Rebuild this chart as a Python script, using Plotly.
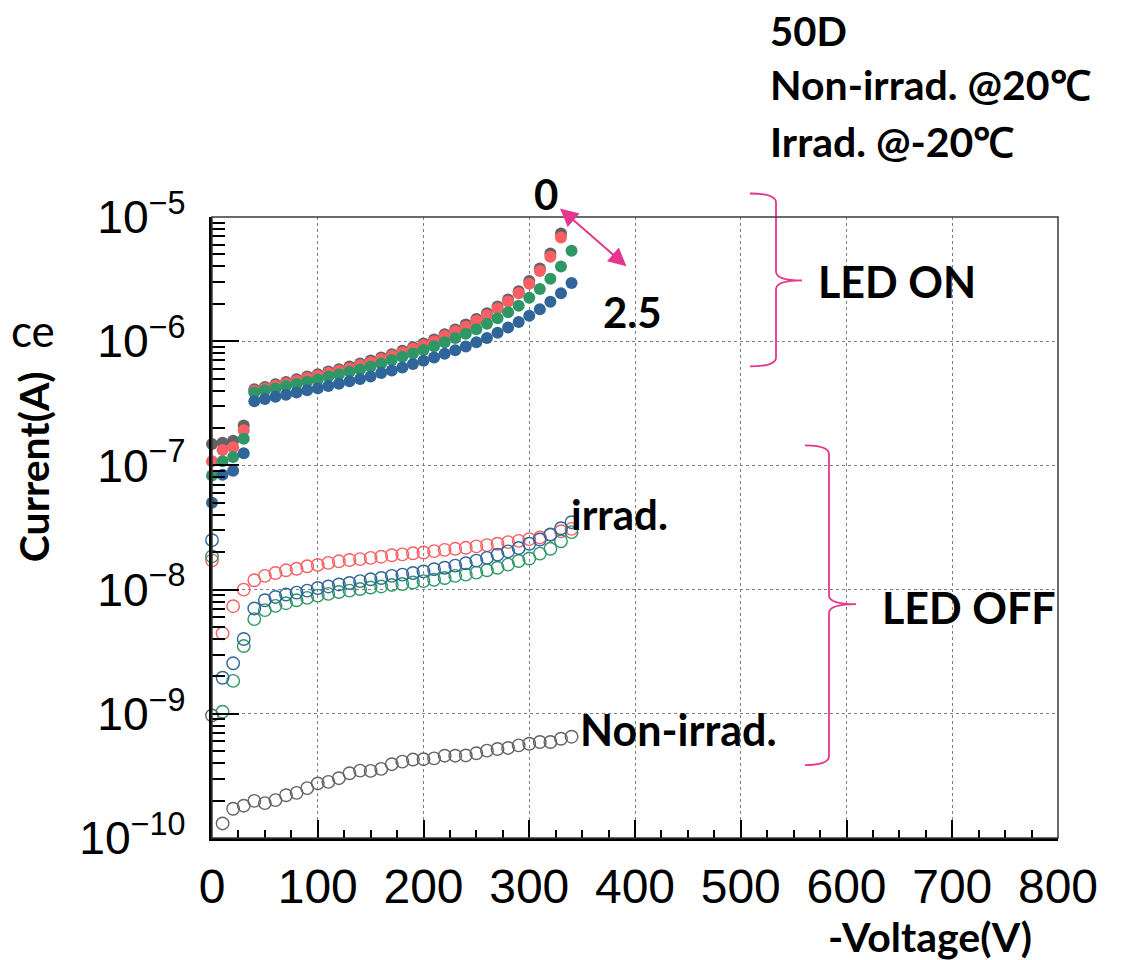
import plotly.graph_objects as go

# ---------------- data ----------------
voltage_330 = [0, 10, 20, 30, 40, 50, 60, 70, 80, 90, 100, 110, 120, 130, 140, 150, 160,
               170, 180, 190, 200, 210, 220, 230, 240, 250, 260, 270, 280, 290, 300, 310,
               320, 330]
voltage_340 = voltage_330 + [340]

gray_on = [1.49e-7, 1.52e-7, 1.58e-7, 2.10e-7, 4.10e-7, 4.28e-7, 4.50e-7, 4.70e-7, 4.95e-7,
           5.20e-7, 5.42e-7, 5.70e-7, 5.95e-7, 6.25e-7, 6.60e-7, 6.98e-7, 7.40e-7, 7.85e-7,
           8.36e-7, 8.95e-7, 9.60e-7, 1.03e-6, 1.14e-6, 1.24e-6, 1.36e-6, 1.51e-6, 1.68e-6,
           1.90e-6, 2.17e-6, 2.53e-6, 3.05e-6, 3.85e-6, 5.08e-6, 7.36e-6]
red_on = [1.08e-7, 1.33e-7, 1.40e-7, 1.92e-7, 3.99e-7, 4.17e-7, 4.38e-7, 4.57e-7, 4.81e-7,
          5.05e-7, 5.27e-7, 5.54e-7, 5.78e-7, 6.07e-7, 6.42e-7, 6.78e-7, 7.18e-7, 7.62e-7,
          8.11e-7, 8.68e-7, 9.29e-7, 1.00e-6, 1.10e-6, 1.20e-6, 1.31e-6, 1.46e-6, 1.62e-6,
          1.83e-6, 2.09e-6, 2.43e-6, 2.90e-6, 3.67e-6, 4.78e-6, 6.84e-6]
green_on = [8.30e-8, 1.08e-7, 1.17e-7, 1.64e-7, 3.87e-7, 4.02e-7, 4.17e-7, 4.36e-7, 4.52e-7,
            4.72e-7, 4.92e-7, 5.20e-7, 5.43e-7, 5.67e-7, 5.93e-7, 6.26e-7, 6.62e-7, 7.05e-7,
            7.48e-7, 7.96e-7, 8.51e-7, 9.12e-7, 9.82e-7, 1.06e-6, 1.15e-6, 1.25e-6, 1.38e-6,
            1.53e-6, 1.71e-6, 1.93e-6, 2.24e-6, 2.63e-6, 3.18e-6, 4.00e-6, 5.35e-6]
blue_on = [5.00e-8, 8.41e-8, 9.06e-8, 1.25e-7, 3.28e-7, 3.42e-7, 3.57e-7, 3.71e-7, 3.87e-7,
           4.02e-7, 4.17e-7, 4.36e-7, 4.55e-7, 4.75e-7, 4.96e-7, 5.20e-7, 5.54e-7, 5.82e-7,
           6.15e-7, 6.54e-7, 6.95e-7, 7.40e-7, 7.91e-7, 8.47e-7, 9.06e-7, 9.82e-7, 1.06e-6,
           1.17e-6, 1.29e-6, 1.43e-6, 1.60e-6, 1.81e-6, 2.08e-6, 2.43e-6, 2.94e-6]

gray_off = [9.70e-10, 1.31e-10, 1.72e-10, 1.82e-10, 1.99e-10, 1.91e-10, 2.02e-10, 2.21e-10,
            2.31e-10, 2.52e-10, 2.75e-10, 2.83e-10, 3.03e-10, 3.32e-10, 3.49e-10, 3.47e-10,
            3.60e-10, 3.93e-10, 4.12e-10, 4.28e-10, 4.31e-10, 4.38e-10, 4.60e-10, 4.60e-10,
            4.62e-10, 4.81e-10, 5.05e-10, 5.21e-10, 5.31e-10, 5.57e-10, 5.74e-10, 5.93e-10,
            5.93e-10, 6.30e-10, 6.54e-10]
red_off = [1.72e-8, 4.44e-9, 7.35e-9, 1.00e-8, 1.19e-8, 1.29e-8, 1.36e-8, 1.43e-8, 1.47e-8,
           1.54e-8, 1.58e-8, 1.64e-8, 1.69e-8, 1.73e-8, 1.76e-8, 1.80e-8, 1.84e-8, 1.89e-8,
           1.92e-8, 1.96e-8, 1.99e-8, 2.04e-8, 2.09e-8, 2.13e-8, 2.17e-8, 2.23e-8, 2.28e-8,
           2.34e-8, 2.41e-8, 2.47e-8, 2.55e-8, 2.63e-8, 2.76e-8, 2.95e-8, 3.08e-8]
green_off = [1.85e-8, 1.04e-9, 1.84e-9, 3.51e-9, 5.78e-9, 6.83e-9, 7.40e-9, 7.77e-9, 8.21e-9,
             8.57e-9, 8.95e-9, 9.23e-9, 9.57e-9, 9.82e-9, 1.01e-8, 1.04e-8, 1.06e-8, 1.09e-8,
             1.11e-8, 1.14e-8, 1.17e-8, 1.20e-8, 1.24e-8, 1.29e-8, 1.32e-8, 1.37e-8, 1.43e-8,
             1.50e-8, 1.59e-8, 1.70e-8, 1.78e-8, 1.95e-8, 2.13e-8, 2.45e-8, 2.90e-8]
blue_off = [2.50e-8, 1.95e-9, 2.55e-9, 4.00e-9, 7.05e-9, 8.21e-9, 8.73e-9, 9.12e-9, 9.46e-9,
            9.82e-9, 1.03e-8, 1.06e-8, 1.10e-8, 1.13e-8, 1.17e-8, 1.21e-8, 1.24e-8, 1.29e-8,
            1.32e-8, 1.36e-8, 1.40e-8, 1.46e-8, 1.50e-8, 1.56e-8, 1.63e-8, 1.71e-8, 1.80e-8,
            1.91e-8, 2.03e-8, 2.16e-8, 2.34e-8, 2.53e-8, 2.78e-8, 3.12e-8, 3.49e-8]

x_ticks = [0, 100, 200, 300, 400, 500, 600, 700, 800]

# ---------------- style ----------------
GRAY = "#636363"
RED = "#fb5f63"
GREEN = "#2f9766"
BLUE = "#30659a"
PINK = "#e5358f"
BOLD = "Lato"

PAGE_OFF = 8                      # default body margin of the page
W, H = 1126 - PAGE_OFF, 960 - PAGE_OFF
L, R, T, B = 212, 1058, 216.5, 838   # plot-area edges in page pixels


def px(x, y):
    return (x - L) / (R - L), (B - y) / (B - T)


fig = go.Figure()

off_series = [(gray_off, GRAY, voltage_340), (red_off, RED, voltage_340),
              (green_off, GREEN, voltage_340), (blue_off, BLUE, voltage_340)]
for ys, col, xs in off_series:
    fig.add_trace(go.Scatter(x=xs, y=ys, mode="markers", cliponaxis=False,
                             marker=dict(symbol="circle-open", size=12.5,
                                         color=col, line=dict(width=1.4, color=col)),
                             showlegend=False))

on_series = [(gray_on, GRAY, voltage_330), (red_on, RED, voltage_330),
             (green_on, GREEN, voltage_340), (blue_on, BLUE, voltage_340)]
for ys, col, xs in on_series:
    fig.add_trace(go.Scatter(x=xs, y=ys, mode="markers", cliponaxis=False,
                             marker=dict(symbol="circle", size=12, color=col,
                                         line=dict(width=0)),
                             showlegend=False))

annotations = []


def txt(x, y, s, size, bold=True, anchor="center", family=BOLD, angle=0):
    ax_, ay_ = px(x, y)
    annotations.append(dict(x=ax_, y=ay_, xref="paper", yref="paper", text=s,
                            showarrow=False, xanchor=anchor, yanchor="middle",
                            textangle=angle,
                            font=dict(family=family, size=size, color="black",
                                      weight="bold" if bold else "normal")))


txt(768, 30, "50D", 40, anchor="left")
txt(768, 84, "Non-irrad. @20℃", 41, anchor="left")
txt(768, 141, "Irrad. @-20℃", 41, anchor="left")
txt(546, 193, "0", 42)
txt(632, 312, "2.5", 42)
txt(897, 281, "LED ON", 43)
txt(969, 607, "LED OFF", 43)
txt(619, 514, "irrad.", 42)
txt(678, 729, "Non-irrad.", 43)
txt(9, 330, "ce", 44, bold=False, anchor="left")
txt(33, 467, "Current(A)", 41, angle=-90)
txt(930, 937, "-Voltage(V)", 41)

# double-headed arrow
hx, hy = px(560, 208)
annotations.append(dict(x=hx, y=hy, xref="paper", yref="paper", text="",
                        showarrow=True, ax=68, ay=59, axref="pixel", ayref="pixel",
                        arrowside="end+start", arrowhead=2, arrowsize=1.8,
                        arrowwidth=2, arrowcolor=PINK, startarrowhead=2,
                        startarrowsize=1.8, standoff=0, startstandoff=0))


def brace(x0, xv, xt, y0, yt, y1):
    r = 9
    pts = [
        ("M", [(x0, y0)]),
        ("Q", [(xv, y0), (xv, y0 + r)]),
        ("L", [(xv, yt - r)]),
        ("Q", [(xv, yt), (xt, yt)]),
        ("Q", [(xv, yt), (xv, yt + r)]),
        ("L", [(xv, y1 - r)]),
        ("Q", [(xv, y1), (x0, y1)]),
    ]
    s = ""
    for cmd, ps in pts:
        s += cmd + " " + " ".join("%.5f,%.5f" % px(a, b) for a, b in ps) + " "
    return s.strip()


shapes = [
    dict(type="path", xref="paper", yref="paper", path=brace(750, 776, 802, 193, 280, 366),
         line=dict(color=PINK, width=1.8)),
    dict(type="path", xref="paper", yref="paper", path=brace(805, 829, 856, 445, 604, 765),
         line=dict(color=PINK, width=1.8)),
    # frame (top / right)
    dict(type="rect", xref="paper", yref="paper", x0=0, x1=1, y0=0, y1=1,
         line=dict(color="#3a3a3a", width=1.5), layer="above"),
]

fig.update_layout(
    width=W, height=H,
    margin=dict(l=L - PAGE_OFF, r=1126 - R, t=T - PAGE_OFF, b=960 - B, pad=0),
    paper_bgcolor="white", plot_bgcolor="white",
    showlegend=False,
    annotations=annotations,
    shapes=shapes,
    font=dict(family="Liberation Sans", color="black"),
)

fig.update_xaxes(
    range=[0, 800], tickvals=x_ticks, ticktext=[str(v) for v in x_ticks],
    ticks="inside", ticklen=18, tickwidth=1.5, tickcolor="black",
    minor=dict(ticks="inside", ticklen=8, tickwidth=1.5, tickcolor="black", dtick=25,
               showgrid=False),
    showline=True, linecolor="black", linewidth=2.5,
    showgrid=True, gridcolor="#808080", gridwidth=1, griddash="dot",
    zeroline=False,
    tickfont=dict(family="Liberation Sans Narrow, Liberation Sans", size=48, color="black"),
    ticklabelstandoff=5,
)
fig.update_yaxes(
    type="log", range=[-10, -5], dtick=1, exponentformat="power",
    ticks="inside", ticklen=27, tickwidth=1.5, tickcolor="black",
    minor=dict(ticks="inside", ticklen=13, tickwidth=1.5, tickcolor="black", dtick="D1",
               showgrid=False),
    showline=True, linecolor="black", linewidth=3,
    showgrid=True, gridcolor="#808080", gridwidth=1, griddash="dot",
    zeroline=False, tickfont=dict(family="Liberation Sans", size=37, color="black"),
    ticklabelstandoff=16,
)

fig.write_html("out.html")
